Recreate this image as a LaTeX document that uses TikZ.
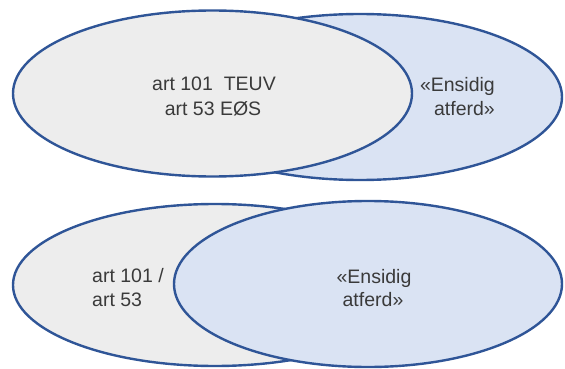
\documentclass[tikz,border=0pt]{standalone}
\usepackage{fontspec}
\setmainfont{Liberation Sans}
\usetikzlibrary{shapes.geometric}
\definecolor{rim}{HTML}{2F5597}
\definecolor{greyfill}{HTML}{EDEDED}
\definecolor{bluefill}{HTML}{DAE3F3}
\definecolor{ink}{HTML}{3A3A3A}
\tikzset{
  oval/.style={ellipse, draw=rim, line width=2.4pt, inner sep=0pt},
  greyoval/.style={oval, fill=greyfill},
  blueoval/.style={oval, fill=bluefill},
  label/.style={inner sep=0pt, text=ink, font=\fontsize{19.5}{24}\selectfont}
}
\begin{document}
\begin{tikzpicture}[x=1pt,y=-1pt]
\useasboundingbox (0,0) rectangle (565,369);
% upper pair: blue behind, grey in front
\node[blueoval, minimum width=404pt, minimum height=166pt] (uback) at (360,97) {};
\node[greyoval, minimum width=399pt, minimum height=166pt] (ufront) at (212.5,93.5) {};
\node[label, anchor=base] (u1) at (214,91) {art 101\ \ TEUV};
\node[label, anchor=base] (u2) at (213,115) {art 53 EØS};
\node[label, anchor=base east] (u3) at (495,92) {«Ensidig};
\node[label, anchor=base east] (u4) at (495,115) {atferd»};
% lower pair: grey behind, blue in front
\node[greyoval, minimum width=404pt, minimum height=162pt] (lback) at (215,285) {};
\node[blueoval, minimum width=388pt, minimum height=166pt] (lfront) at (368,284) {};
\node[label, anchor=base west] (l1) at (92,282) {art 101 /};
\node[label, anchor=base west] (l2) at (92,306) {art 53};
\node[label, anchor=base] (l3) at (374,283) {«Ensidig};
\node[label, anchor=base] (l4) at (373,306) {atferd»};
\end{tikzpicture}
\end{document}
